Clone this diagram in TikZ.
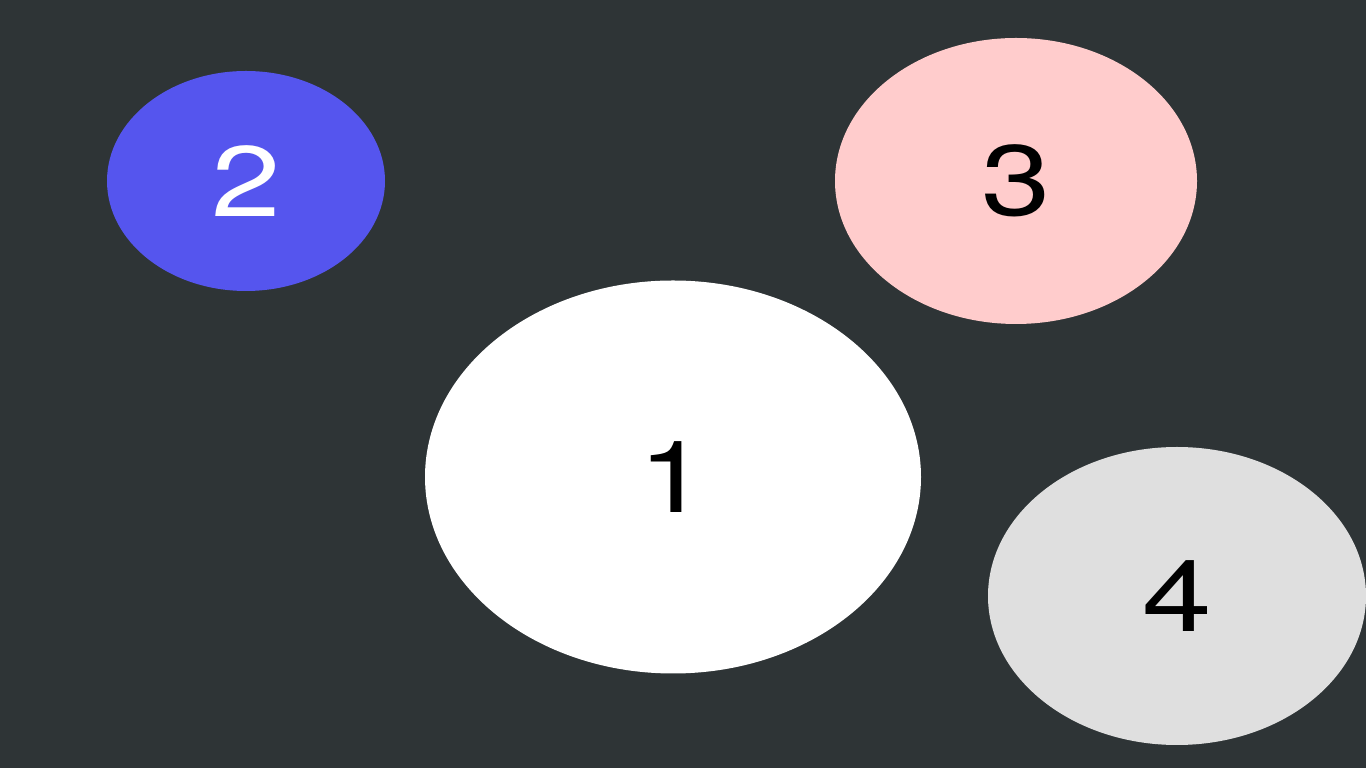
\documentclass[tikz,border=0pt]{standalone}
\usepackage{fontspec}
\setmainfont{TeX Gyre Heros}
\newfontfamily\widefont[FakeStretch=1.25]{TeX Gyre Heros}
\usetikzlibrary{shapes.geometric}
\definecolor{bg}{HTML}{2E3436}
\definecolor{blueish}{HTML}{5555EE}
\definecolor{pinkish}{HTML}{FFCCCC}
\definecolor{greyish}{HTML}{DFDFDF}
\begin{document}
\begin{tikzpicture}[x=1pt,y=1pt,
  blob/.style={ellipse,draw=none,inner sep=0pt,font=\widefont\fontsize{100}{100}\selectfont}]
\fill[bg] (0,0) rectangle (1366,768);
\useasboundingbox (0,0) rectangle (1366,768);
\node[blob,fill=white,text=black,minimum width=496pt,minimum height=393pt] (n1) at (673,291) {1};
\node[blob,fill=blueish,text=white,minimum width=278pt,minimum height=220pt] (n2) at (246,587) {2};
\node[blob,fill=pinkish,text=black,minimum width=362pt,minimum height=286pt] (n3) at (1016,587) {3};
\node[blob,fill=greyish,text=black,minimum width=378pt,minimum height=298pt] (n4) at (1177,172) {4};
\end{tikzpicture}
\end{document}
